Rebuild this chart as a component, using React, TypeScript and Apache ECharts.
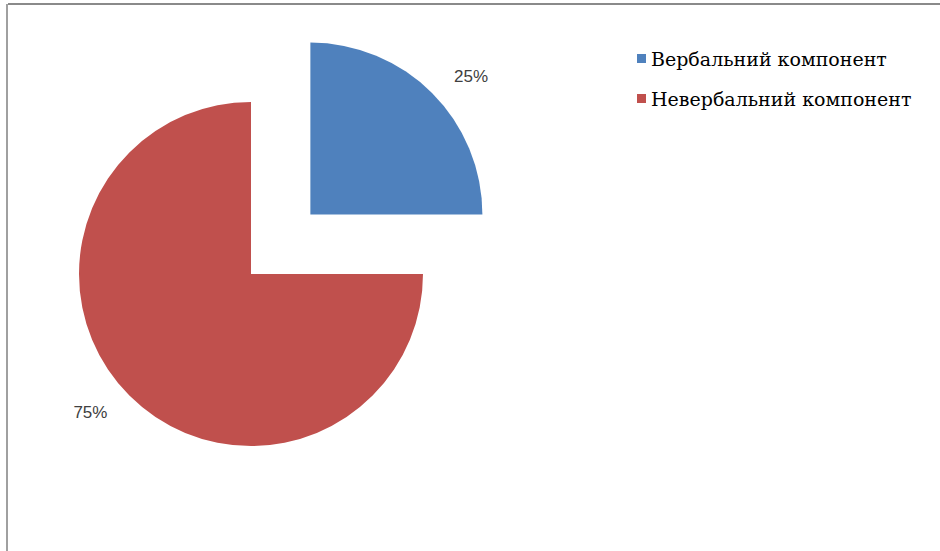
import React, { useEffect, useRef } from "react";
import * as echarts from "echarts";

const categories = ["Вербальний компонент", "Невербальний компонент"];
const values = [25, 75];
const colors = ["#4F81BD", "#C0504D"];

export default function App() {
  const ref = useRef<HTMLDivElement>(null);
  useEffect(() => {
    const chart = echarts.init(ref.current!, null, { renderer: "svg" });
    chart.setOption({
      animation: false,
      backgroundColor: "#ffffff",
      legend: {
        orient: "vertical",
        left: 632,
        top: 44,
        icon: "rect",
        itemWidth: 9,
        itemHeight: 9,
        itemGap: 21,
        selectedMode: false,
        textStyle: { fontFamily: "DejaVu Serif", fontSize: 19, color: "#000" },
        data: categories,
      },
      graphic: [
        { type: "line", shape: { x1: 8, y1: 4, x2: 940, y2: 4 }, style: { stroke: "#8a8a8a", lineWidth: 2 } },
        { type: "line", shape: { x1: 7, y1: 4, x2: 7, y2: 551 }, style: { stroke: "#a0a0a0", lineWidth: 2 } },
      ],
      series: [
        {
          type: "pie",
          center: [251, 274],
          radius: [0, 172],
          startAngle: 90,
          clockwise: true,
          selectedMode: "single",
          selectedOffset: 84,
          label: {
            show: true,
            position: "outside",
            formatter: "{d}%",
            fontFamily: "Liberation Sans",
            fontSize: 17,
            color: "#404040",
          },
          labelLine: { show: false, length: 24, length2: 0 },
          emphasis: { disabled: true },
          data: categories.map((c, i) => ({
            name: c,
            value: values[i],
            selected: i === 0,
            itemStyle: { color: colors[i] },
          })),
        },
      ],
    });
    return () => chart.dispose();
  }, []);
  return (
    <div
      ref={ref}
      style={{ position: "absolute", left: 0, top: 0, width: 940, height: 551 }}
    />
  );
}
